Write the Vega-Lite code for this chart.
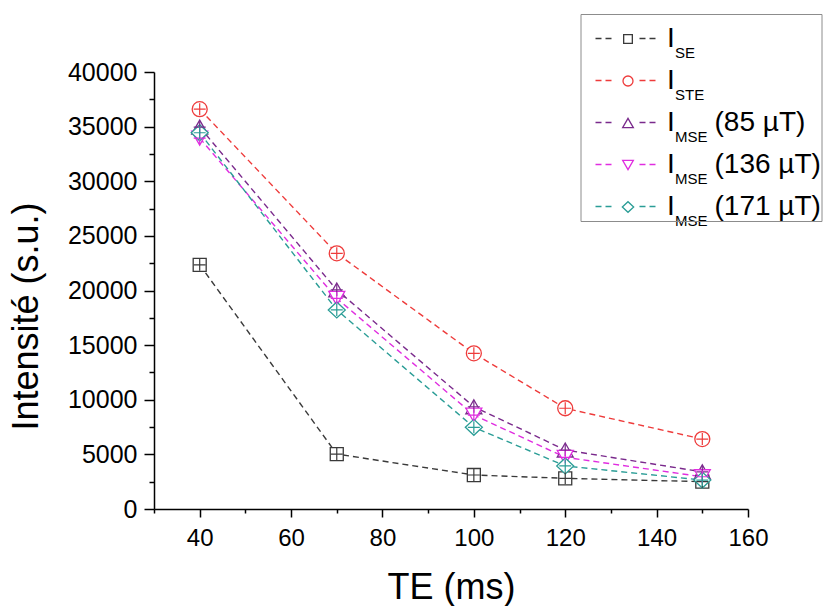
{
  "$schema": "https://vega.github.io/schema/vega-lite/v6.json",
  "width": 594,
  "height": 437,
  "autosize": {"type": "none"},
  "padding": {"left": 154, "top": 72, "right": 83, "bottom": 97},
  "background": "white",
  "config": {"view": {"stroke": null}, "font": "Liberation Sans"},
  "data": {
    "values": [
      {"te": 40, "intensity": 22350, "series": "SE"},
      {"te": 70, "intensity": 5030, "series": "SE"},
      {"te": 100, "intensity": 3110, "series": "SE"},
      {"te": 120, "intensity": 2810, "series": "SE"},
      {"te": 150, "intensity": 2500, "series": "SE"},
      {"te": 40, "intensity": 36600, "series": "STE"},
      {"te": 70, "intensity": 23400, "series": "STE"},
      {"te": 100, "intensity": 14250, "series": "STE"},
      {"te": 120, "intensity": 9220, "series": "STE"},
      {"te": 150, "intensity": 6400, "series": "STE"},
      {"te": 40, "intensity": 34950, "series": "MSE 85 µT"},
      {"te": 70, "intensity": 20050, "series": "MSE 85 µT"},
      {"te": 100, "intensity": 9360, "series": "MSE 85 µT"},
      {"te": 120, "intensity": 5400, "series": "MSE 85 µT"},
      {"te": 150, "intensity": 3400, "series": "MSE 85 µT"},
      {"te": 40, "intensity": 33950, "series": "MSE 136 µT"},
      {"te": 70, "intensity": 19280, "series": "MSE 136 µT"},
      {"te": 100, "intensity": 8600, "series": "MSE 136 µT"},
      {"te": 120, "intensity": 4730, "series": "MSE 136 µT"},
      {"te": 150, "intensity": 2950, "series": "MSE 136 µT"},
      {"te": 40, "intensity": 34440, "series": "MSE 171 µT"},
      {"te": 70, "intensity": 18220, "series": "MSE 171 µT"},
      {"te": 100, "intensity": 7480, "series": "MSE 171 µT"},
      {"te": 120, "intensity": 3940, "series": "MSE 171 µT"},
      {"te": 150, "intensity": 2650, "series": "MSE 171 µT"}
    ]
  },
  "encoding": {
    "x": {
      "field": "te", "type": "quantitative",
      "scale": {"domain": [30, 160], "nice": false, "zero": false},
      "axis": {
        "title": "TE (ms)",
        "values": [30, 40, 50, 60, 70, 80, 90, 100, 110, 120, 130, 140, 150, 160],
        "format": "d",
        "labelExpr": "datum.value % 20 === 0 ? datum.label : ''",
        "tickSize": {"condition": {"test": "datum.value % 20 === 0", "value": 8}, "value": 4},
        "tickWidth": 1.5, "tickColor": "black",
        "domainColor": "black", "domainWidth": 1.5,
        "labelFont": "Liberation Sans", "labelFontSize": 24, "labelColor": "black", "labelPadding": 9,
        "labelOverlap": false, "labelFlush": false,
        "titleFont": "Liberation Sans", "titleFontSize": 36, "titleFontWeight": "normal", "titleColor": "black",
        "titleBaseline": "alphabetic", "titleX": 297, "titleY": 89, "titleAlign": "center",
        "grid": false
      }
    },
    "y": {
      "field": "intensity", "type": "quantitative",
      "scale": {"domain": [0, 40000], "nice": false},
      "axis": {
        "title": "Intensité (s.u.)",
        "values": [0, 2500, 5000, 7500, 10000, 12500, 15000, 17500, 20000, 22500, 25000, 27500, 30000, 32500, 35000, 37500, 40000],
        "format": "d",
        "labelExpr": "datum.value % 5000 === 0 ? datum.label : ''",
        "tickSize": {"condition": {"test": "datum.value % 5000 === 0", "value": 10}, "value": 5},
        "tickWidth": 1.5, "tickColor": "black",
        "domainColor": "black", "domainWidth": 1.5,
        "labelFont": "Liberation Sans", "labelFontSize": 25, "labelColor": "black", "labelPadding": 7,
        "labelOverlap": false, "labelFlush": false,
        "titleFont": "Liberation Sans", "titleFontSize": 36, "titleFontWeight": "normal", "titleColor": "black",
        "titleBaseline": "alphabetic", "titleX": -117, "titleY": 244, "titleAlign": "center", "titleAngle": 270,
        "grid": false
      }
    }
  },
  "layer": [
    {
      "mark": {"type": "line", "strokeWidth": 1.4, "strokeDash": [6, 4]},
      "encoding": {
        "color": {
          "field": "series", "type": "nominal",
          "sort": ["SE", "STE", "MSE 85 µT", "MSE 136 µT", "MSE 171 µT"],
          "scale": {"range": ["#3a3a3a", "#ee3b3b", "#7a2a8c", "#e02de0", "#2a9d96"]},
          "legend": {
            "title": null,
            "orient": "none", "legendX": 426.5, "legendY": -34,
            "padding": 0,
            "symbolType": "M-5,-1.167H-4M-3.333,-1.167H-2.333M2.333,-1.167H3.333M4,-1.167H5",
            "symbolSize": 144, "symbolStrokeWidth": 1.4, "symbolDash": [1, 0],
            "symbolOffset": 37.5,
            "labelOffset": 42,
            "labelFont": "Liberation Sans", "labelFontSize": 15, "labelColor": "black", "labelBaseline": "top",
            "rowPadding": 16,
            "labelExpr": "split(datum.label, ' ')[0]"
          }
        }
      }
    },
    {
      "mark": {"type": "point", "filled": false, "fill": "white", "size": 225, "strokeWidth": 1.3, "opacity": 1},
      "encoding": {
        "stroke": {
          "field": "series", "type": "nominal",
          "scale": {
            "domain": ["SE", "STE", "MSE 85 µT", "MSE 136 µT", "MSE 171 µT"],
            "range": ["#3a3a3a", "#ee3b3b", "#7a2a8c", "#e02de0", "#2a9d96"]
          },
          "legend": {
            "title": null,
            "orient": "none", "legendX": 426.5, "legendY": -47,
            "padding": 0,
            "symbolOffset": 33.5, "labelOffset": 25,
            "symbolStrokeWidth": 1.3,
            "labelFont": "Liberation Sans", "labelFontSize": 28, "labelColor": "black",
            "rowPadding": 14,
            "labelExpr": "'I'"
          }
        },
        "shape": {
          "field": "series", "type": "nominal",
          "scale": {
            "domain": ["SE", "STE", "MSE 85 µT", "MSE 136 µT", "MSE 171 µT"],
            "range": [
              "M-0.867,-0.867H0.867V0.867H-0.867Z",
              "circle",
              "M0,-0.933L1.067,0.933L-1.067,0.933Z",
              "M0,0.933L1.067,-0.933L-1.067,-0.933Z",
              "M-1.133,0L0,-1.067L1.133,0L0,1.067Z"
            ]
          },
          "legend": {
            "title": null,
            "orient": "none", "legendX": 426.5, "legendY": -47,
            "padding": 0,
            "symbolOffset": 33.5, "labelOffset": 25,
            "symbolStrokeWidth": 1.3,
            "labelFont": "Liberation Sans", "labelFontSize": 28, "labelColor": "black",
            "rowPadding": 14,
            "labelExpr": "'I'"
          }
        }
      }
    },
    {
      "mark": {"type": "point", "filled": false, "shape": "M-0.8,0H0.8M0,-0.8V0.8", "size": 225, "strokeWidth": 1.2},
      "encoding": {
        "stroke": {"field": "series", "type": "nominal", "legend": null},
        "opacity": {
          "field": "series", "type": "nominal",
          "sort": ["SE", "STE", "MSE 85 µT", "MSE 136 µT", "MSE 171 µT"],
          "scale": {"range": [1, 1, 1, 1, 1]},
          "legend": {
            "title": "\u2003\u2003\u2003",
            "titleFontSize": 8, "titlePadding": 3,
            "orient": "none", "legendX": 426.5, "legendY": -58,
            "padding": 0, "strokeColor": "#8c8c8c",
            "symbolOpacity": 0, "symbolOffset": 0,
            "symbolStrokeColor": "transparent", "symbolFillColor": "transparent", "symbolStrokeWidth": 0,
            "labelOffset": 106,
            "labelFont": "Liberation Sans", "labelFontSize": 28, "labelColor": "black", "labelLimit": 400,
            "rowPadding": 14,
            "labelExpr": "indexof(datum.label, ' ') > 0 ? '(' + substring(datum.label, indexof(datum.label, ' ') + 1) + ')' : ''"
          }
        }
      }
    }
  ]
}
